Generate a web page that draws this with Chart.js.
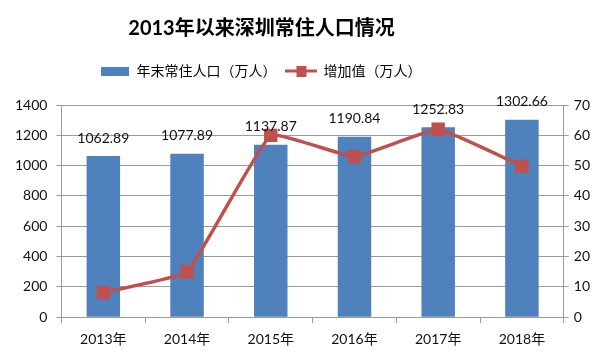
<!DOCTYPE html>
<html>
<head>
<meta charset="utf-8">
<script src="https://cdn.jsdelivr.net/npm/chart.js@4/dist/chart.umd.min.js"></script>
<style>
html,body{margin:0;padding:0;background:#fff;}
#wrap{width:600px;height:356px;position:relative;}
</style>
</head>
<body>
<div id="wrap"><canvas id="c"></canvas></div>
<script>
const categories = ['2013年','2014年','2015年','2016年','2017年','2018年'];
const population = [1062.89, 1077.89, 1137.87, 1190.84, 1252.83, 1302.66];
const increase = [8.15, 15.0, 59.98, 52.97, 61.99, 49.83];
const populationLabels = ['1062.89','1077.89','1137.87','1190.84','1252.83','1302.66'];
const seriesNames = ['年末常住人口（万人）','增加值（万人）'];
const titleText = '2013年以来深圳常住人口情况';

const BLUE = '#4F81BD';
const RED = '#C0504D';
const GRID = '#9a9a9a';
const FONT = "Lato, 'Noto Sans CJK SC', sans-serif";

function makeBarIcon(){
  const c = document.createElement('canvas');
  c.width = 28; c.height = 9;
  const x = c.getContext('2d');
  x.fillStyle = BLUE; x.fillRect(0,0,28,9);
  return c;
}
function makeLineIcon(){
  const c = document.createElement('canvas');
  c.width = 32; c.height = 11;
  const x = c.getContext('2d');
  x.fillStyle = RED;
  x.fillRect(0,4,32,3);
  x.fillRect(11,0,10,11);
  return c;
}
const icons = [makeBarIcon(), makeLineIcon()];

const labelPlugin = {
  id: 'barLabels',
  afterDatasetsDraw(chart){
    const meta = chart.getDatasetMeta(1);
    const ctx = chart.ctx;
    ctx.save();
    ctx.font = "14px " + FONT;
    ctx.fillStyle = '#111';
    ctx.textAlign = 'center';
    ctx.textBaseline = 'middle';
    meta.data.forEach((el,i)=>{
      ctx.fillText(populationLabels[i], el.x, el.y - 18);
    });
    ctx.restore();
  }
};

const layoutPlugin = {
  id: 'headerShift',
  beforeInit(chart){
    const lg = chart.legend;
    if (lg) {
      const orig = lg.fit;
      lg.fit = function(){ orig.call(this); this.height += 17; };
    }
  },
  afterLayout(chart){
    if (chart.legend) { chart.legend.left -= 40; chart.legend.right -= 40; }
    if (chart.titleBlock) { chart.titleBlock.left -= 39; chart.titleBlock.right -= 39; }
  }
};

new Chart(document.getElementById('c'), {
  type: 'bar',
  data: {
    labels: categories,
    datasets: [
      {
        type: 'line',
        label: seriesNames[1],
        data: increase,
        yAxisID: 'y1',
        borderColor: RED,
        backgroundColor: RED,
        borderWidth: 3.5,
        pointStyle: 'rect',
        pointRadius: 7,
        pointHoverRadius: 7,
        pointBackgroundColor: RED,
        pointBorderColor: RED,
        tension: 0.1,
        order: 0
      },
      {
        type: 'bar',
        label: seriesNames[0],
        data: population,
        yAxisID: 'y',
        backgroundColor: BLUE,
        categoryPercentage: 1,
        barPercentage: 0.4,
        order: 1
      }
    ]
  },
  options: {
    responsive: true,
    maintainAspectRatio: false,
    animation: false,
    layout: { padding: { left: 6, right: 5, top: 0, bottom: 0 } },
    plugins: {
      title: {
        display: true,
        text: titleText,
        color: '#000',
        font: { family: FONT, size: 20, weight: 'bold' },
        padding: { top: 17, bottom: 13 }
      },
      legend: {
        display: true,
        labels: {
          usePointStyle: true,
          pointStyleWidth: 30,
          boxHeight: 14,
          padding: 10,
          color: '#222',
          font: { family: FONT, size: 14 },
          generateLabels(chart){
            return [
              { text: seriesNames[0], pointStyle: icons[0], fillStyle: BLUE, strokeStyle: BLUE, lineWidth: 0, datasetIndex: 1, hidden: false },
              { text: seriesNames[1], pointStyle: icons[1], fillStyle: RED, strokeStyle: RED, lineWidth: 0, datasetIndex: 0, hidden: false }
            ];
          }
        }
      },
      tooltip: { enabled: false }
    },
    scales: {
      x: {
        grid: { display: true, drawOnChartArea: false, color: GRID, tickLength: 6, offset: true },
        border: { display: true, color: GRID },
        ticks: { color: '#111', font: { family: FONT, size: 14 }, padding: 8 }
      },
      y: {
        position: 'left',
        min: 0, max: 1400,
        grid: { color: GRID, tickLength: 5 },
        border: { display: true, color: GRID },
        ticks: { stepSize: 200, color: '#111', font: { family: FONT, size: 14 }, padding: 9,
                 callback: v => String(v) }
      },
      y1: {
        position: 'right',
        min: 0, max: 70,
        grid: { drawOnChartArea: false, color: GRID, tickLength: 5 },
        border: { display: true, color: GRID },
        ticks: { stepSize: 10, color: '#111', font: { family: FONT, size: 14 }, padding: 5,
                 callback: v => String(v) }
      }
    }
  },
  plugins: [labelPlugin, layoutPlugin]
});
</script>
</body>
</html>
